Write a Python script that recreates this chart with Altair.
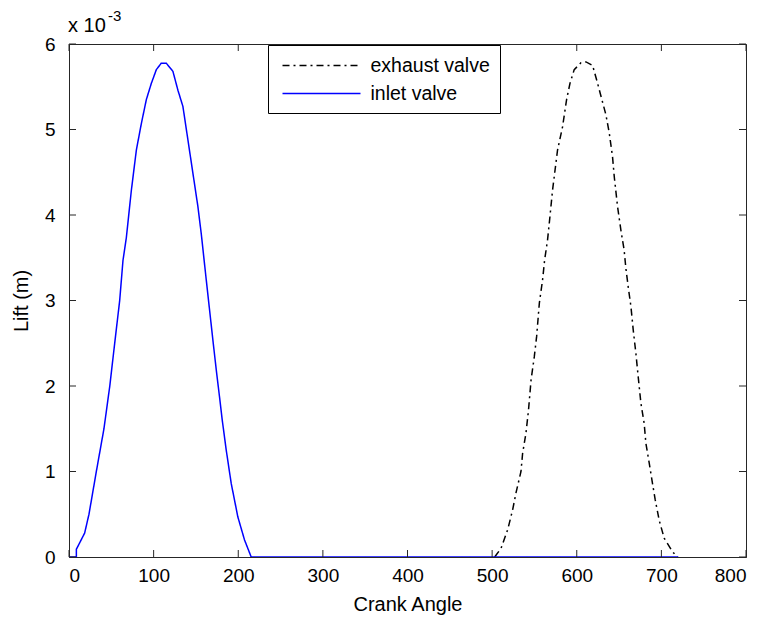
import altair as alt
import pandas as pd

# ---- data (lift in units of 1e-3 m) ----
inlet_angle = [0, 8.7, 8.7, 18.5, 23.6, 32.3, 41.3, 48.2, 54, 59.9, 63.8, 67.7,
               73.7, 79.6, 85.5, 91.4, 97.3, 103.2, 109, 115, 122.8, 128.7, 134.6, 140.5,
               146.4, 152.3, 156.3, 162.2, 166.1, 170, 174, 177.9, 181.1, 185.8, 191.7,
               199.5, 207.4, 215.3, 720]
inlet_lift = [0, 0, 0.09, 0.28, 0.50, 1.0, 1.5, 2.0, 2.5, 3.0, 3.47, 3.73,
              4.29, 4.76, 5.07, 5.35, 5.54, 5.70, 5.775, 5.775, 5.68, 5.46, 5.27, 4.88,
              4.49, 4.10, 3.78, 3.24, 2.89, 2.54, 2.19, 1.87, 1.60, 1.25, 0.86,
              0.47, 0.20, 0, 0]

exhaust_angle = [503, 510.5, 518.4, 524.2, 528.2, 534.1, 536, 540, 543, 546, 549.8, 552.6,
                 555.8, 559.6, 562, 565.5, 567.5, 571.4, 577.3, 583.2, 588, 592, 597, 605,
                 611, 618.7, 624.6, 629.7, 634.5, 638.4, 642.3, 644.3, 648.2, 652.2, 656,
                 658, 660.8, 664, 666.7, 669.9, 672.6, 675.8, 679.7, 681.7, 685.6, 689.5,
                 692.7, 697.4, 703.3, 713.3, 719]
exhaust_lift = [0, 0.10, 0.32, 0.55, 0.75, 1.0, 1.21, 1.45, 1.72, 2.07, 2.34, 2.58,
                2.97, 3.24, 3.47, 3.71, 3.90, 4.29, 4.76, 5.03, 5.35, 5.54, 5.70, 5.78,
                5.79, 5.75, 5.54, 5.35, 5.17, 4.96, 4.68, 4.45, 4.10, 3.82, 3.59,
                3.38, 3.16, 2.93, 2.66, 2.38, 2.11, 1.80, 1.56, 1.33, 1.10, 0.86,
                0.67, 0.43, 0.22, 0.06, 0]

series_names = ["exhaust valve", "inlet valve"]
series_colors = ["#000000", "#0000ff"]
series_dash = [[7, 4, 2, 4], [1, 0]]

x_ticks = [0, 100, 200, 300, 400, 500, 600, 700, 800]
y_ticks = [0, 1, 2, 3, 4, 5, 6]

W, H = 677, 513
FONT = "Liberation Sans"
AX = "#262626"
TL = 7

df = pd.concat([
    pd.DataFrame({"angle": exhaust_angle, "lift": exhaust_lift, "series": series_names[0], "o": range(len(exhaust_angle))}),
    pd.DataFrame({"angle": inlet_angle, "lift": inlet_lift, "series": series_names[1], "o": range(len(inlet_angle))}),
], ignore_index=True)

xscale = alt.Scale(domain=[0, 800], nice=False, zero=False)
yscale = alt.Scale(domain=[0, 6], nice=False)

lines = alt.Chart(df).mark_line(strokeWidth=1.5, clip=True).encode(
    x=alt.X("angle:Q", scale=xscale, title="Crank Angle",
            axis=alt.Axis(values=x_ticks, ticks=False, labelPadding=9, titlePadding=9, format="d")),
    y=alt.Y("lift:Q", scale=yscale, title="Lift (m)",
            axis=alt.Axis(values=y_ticks, ticks=False, labelPadding=14, titlePadding=13, format="d")),
    color=alt.Color("series:N", scale=alt.Scale(domain=series_names, range=series_colors),
                    legend=alt.Legend(title=None, orient="none", legendX=199, legendY=1,
                                      symbolType="M-0.6,0H7.2", symbolSize=400, symbolStrokeWidth=1.5,
                                      labelFont=FONT, labelFontSize=19.5, labelColor="#000",
                                      strokeColor="#000", fillColor="#fff", padding=9.5,
                                      labelOffset=71, rowPadding=7)),
    strokeDash=alt.StrokeDash("series:N", scale=alt.Scale(domain=series_names, range=series_dash), legend=None),
    order="o:Q",
)

xt = pd.DataFrame({"t": x_ticks})
yt = pd.DataFrame({"t": y_ticks})
tick_style = dict(color=AX, strokeWidth=1)
bx = alt.Chart(xt).mark_rule(**tick_style).encode(x=alt.X("t:Q", scale=xscale), y=alt.value(H), y2=alt.value(H - TL))
tx = alt.Chart(xt).mark_rule(**tick_style).encode(x=alt.X("t:Q", scale=xscale), y=alt.value(0), y2=alt.value(TL))
ly = alt.Chart(yt).mark_rule(**tick_style).encode(y=alt.Y("t:Q", scale=yscale), x=alt.value(0), x2=alt.value(TL))
ry = alt.Chart(yt).mark_rule(**tick_style).encode(y=alt.Y("t:Q", scale=yscale), x=alt.value(W), x2=alt.value(W - TL))

mult = alt.Chart(pd.DataFrame({"s": ["x 10"]})).mark_text(
    font=FONT, fontSize=20, align="left", baseline="alphabetic", color="#000"
).encode(text="s:N", x=alt.value(-1), y=alt.value(-12))
expo = alt.Chart(pd.DataFrame({"s": ["-3"]})).mark_text(
    font=FONT, fontSize=15, align="left", baseline="alphabetic", color="#000"
).encode(text="s:N", x=alt.value(39), y=alt.value(-23))

chart = alt.layer(lines, bx, tx, ly, ry, mult, expo).properties(
    width=W, height=H,
    padding={"left": 61, "top": 36, "right": 12, "bottom": 62},
    autosize=alt.AutoSizeParams(type="none"),
    background="#ffffff",
).configure_view(stroke=AX, strokeWidth=1).configure_axis(
    labelFont=FONT, labelFontSize=19, labelColor="#000", titleFont=FONT, titleFontSize=20,
    titleColor="#000", titleFontWeight="normal", domainColor=AX, grid=False,
)

chart.save("out.html", embed_options={"renderer": "svg", "actions": False})
